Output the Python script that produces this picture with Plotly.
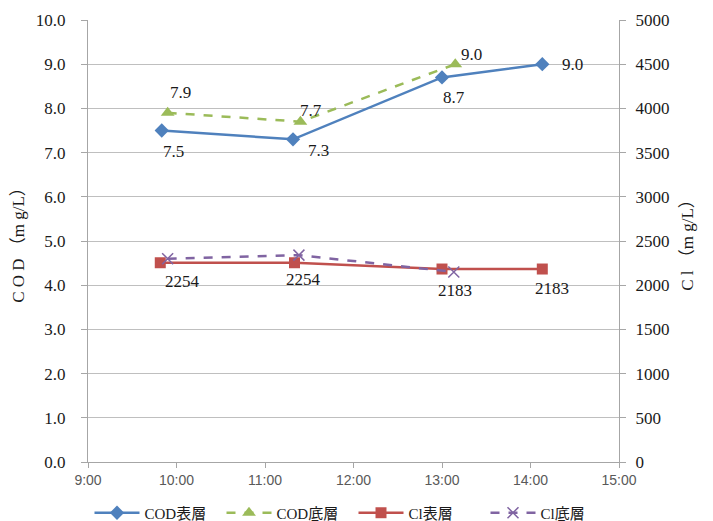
import plotly.graph_objects as go

# Sampling times (same day) and measured values
cod_surface_t = ["09:50", "11:19", "13:00", "14:08"]
cod_surface = [7.5, 7.3, 8.7, 9.0]
cod_bottom_t = ["09:54", "11:24", "13:09"]
cod_bottom = [7.9, 7.7, 9.0]
cl_surface_t = ["09:49", "11:20", "13:00", "14:08"]
cl_surface = [2254, 2254, 2183, 2183]
cl_bottom_t = ["09:54", "11:23", "13:08"]
cl_bottom = [2300, 2340, 2150]

# label offsets in pixels (dx, dy) for each data label
cod_surface_off = [(12, 21), (25, 11), (12, 20), (30, 0)]
cod_bottom_off = [(13, -20), (11, -11), (16, -10)]
cl_surface_off = [(22, 19), (9, 17), (13, 21), (10, 19)]

DAY = "2000-01-01 "
def ts(lst):
    return [DAY + t for t in lst]

SERIF = "Liberation Serif, DejaVu Serif, Noto Sans CJK JP"
BLUE, GREEN, RED, PURPLE = "#4F81BD", "#9BBB59", "#C0504D", "#8064A2"
TXT = "#1a1a1a"

fig = go.Figure()
fig.add_trace(go.Scatter(
    x=ts(cod_surface_t), y=cod_surface, name="COD表層", mode="lines+markers",
    line=dict(color=BLUE, width=2.5), marker=dict(symbol="diamond", size=11, color=BLUE)))
fig.add_trace(go.Scatter(
    x=ts(cod_bottom_t), y=cod_bottom, name="COD底層", mode="lines+markers",
    line=dict(color=GREEN, width=2.5, dash="dash"), marker=dict(symbol="triangle-up", size=12, color=GREEN)))
fig.add_trace(go.Scatter(
    x=ts(cl_surface_t), y=cl_surface, name="Cl表層", mode="lines+markers", yaxis="y2",
    line=dict(color=RED, width=2.5), marker=dict(symbol="square", size=11, color=RED)))
fig.add_trace(go.Scatter(
    x=ts(cl_bottom_t), y=cl_bottom, name="Cl底層", mode="lines+markers", yaxis="y2",
    line=dict(color=PURPLE, width=2.5, dash="dash"),
    marker=dict(symbol="x-thin", size=11, line=dict(color=PURPLE, width=1.5))))

annotations = []
def add_labels(times, vals, offs, yref, fmt):
    for t, v, (dx, dy) in zip(times, vals, offs):
        annotations.append(dict(
            x=DAY + t, y=v, xref="x", yref=yref, text=fmt(v), showarrow=False,
            xshift=dx, yshift=-dy, font=dict(family=SERIF, size=17, color=TXT)))

add_labels(cod_surface_t, cod_surface, cod_surface_off, "y", lambda v: f"{v:.1f}")
add_labels(cod_bottom_t, cod_bottom, cod_bottom_off, "y", lambda v: f"{v:.1f}")
add_labels(cl_surface_t, cl_surface, cl_surface_off, "y2", lambda v: f"{v}")

fig.update_layout(
    width=713, height=521,
    margin=dict(l=88, r=94, t=20, b=59, autoexpand=False),
    paper_bgcolor="white", plot_bgcolor="white",
    showlegend=True,
    legend=dict(orientation="h", x=0.5, xanchor="center", y=-0.078, yanchor="top",
                font=dict(family=SERIF, size=15, color=TXT), itemwidth=45,
                entrywidth=72, tracegroupgap=0),
    annotations=annotations,
    xaxis=dict(
        type="date", range=[DAY + "09:00", DAY + "15:00"], dtick=3600000,
        tickformat="%-H:%M", showgrid=False, showline=True, linecolor="#A6A6A6",
        ticks="outside", ticklen=5, tickcolor="#A6A6A6",
        tickfont=dict(family="Liberation Sans, Noto Sans CJK JP", size=14, color="#595959"),
        zeroline=False),
    yaxis=dict(
        range=[0, 10], dtick=1, tickformat=".1f", showgrid=True, gridcolor="#BFBFBF",
        showline=True, linecolor="#A6A6A6", ticks="outside", ticklen=6, tickcolor="#A6A6A6",
        ticklabelstandoff=12,
        tickfont=dict(family=SERIF, size=17, color=TXT), zeroline=False,
        title=dict(text="C O D （m g/L）", font=dict(family=SERIF, size=17, color=TXT), standoff=6)),
    yaxis2=dict(
        range=[0, 5000], dtick=500, overlaying="y", side="right", showgrid=False,
        showline=True, linecolor="#A6A6A6", ticks="outside", ticklen=6, tickcolor="#A6A6A6",
        ticklabelstandoff=6,
        tickfont=dict(family=SERIF, size=17, color=TXT), zeroline=False,
        title=dict(text="C l （m g/L）", font=dict(family=SERIF, size=17, color=TXT), standoff=12)),
)

fig.write_html("out.html")
